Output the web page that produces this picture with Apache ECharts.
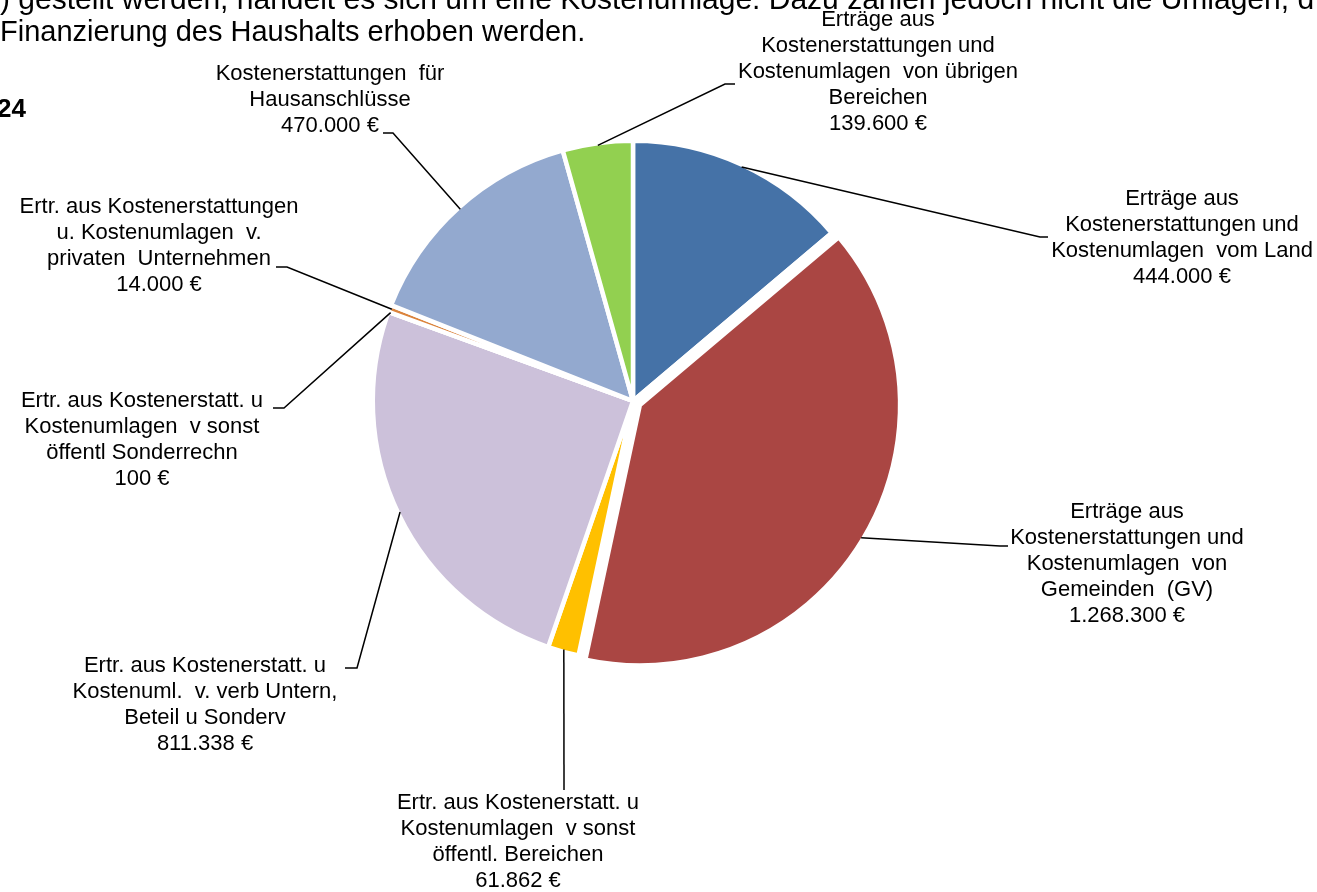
<!DOCTYPE html>
<html>
<head>
<meta charset="utf-8">
<title>Kostenerstattungen und Kostenumlagen</title>
<script src="https://cdn.jsdelivr.net/npm/echarts@6/dist/echarts.min.js"></script>
<style>
  html, body { margin: 0; padding: 0; background: #fff; }
  #chart { width: 1317px; height: 892px; }
</style>
</head>
<body>
<div id="chart"></div>
<script>
// Daten (im Uhrzeigersinn ab 12 Uhr)
const categories = [
  "Erträge aus\nKostenerstattungen und\nKostenumlagen  vom Land",
  "Erträge aus\nKostenerstattungen und\nKostenumlagen  von\nGemeinden  (GV)",
  "Ertr. aus Kostenerstatt. u\nKostenumlagen  v sonst\nöffentl. Bereichen",
  "Ertr. aus Kostenerstatt. u\nKostenuml.  v. verb Untern,\nBeteil u Sonderv",
  "Ertr. aus Kostenerstatt. u\nKostenumlagen  v sonst\nöffentl Sonderrechn",
  "Ertr. aus Kostenerstattungen\nu. Kostenumlagen  v.\nprivaten  Unternehmen",
  "Kostenerstattungen  für\nHausanschlüsse",
  "Erträge aus\nKostenerstattungen und\nKostenumlagen  von übrigen\nBereichen"
];
const values = [444000, 1268300, 61862, 811338, 100, 14000, 470000, 139600];
const colors = ["#4572a7", "#aa4643", "#ffc000", "#ccc1da", "#4198af", "#db843d", "#93a9cf", "#92d050"];

const textLine1 = ") gestellt werden, handelt es sich um eine Kostenumlage. Dazu zählen jedoch nicht die Umlagen, d";
const textLine2 = "Finanzierung des Haushalts erhoben werden.";
const textYear = "24";

// Geometrie
const cx = 633, cy = 401, R = 258; // sichtbarer Radius
const border = 4.5;
const explodeIndex = 1, explodeOffset = 8; // Gemeinden-Segment herausgezogen
const font = '"Liberation Sans", Arial, sans-serif';

// Beschriftungsposition: Mitte des Labels, Knick der Linie, Ende am Label
const labelSpots = [
  { x: 1182, y: 238, stub: [1040, 237], end: [1048, 237] },
  { x: 1127, y: 564, stub: [1000, 546], end: [1008, 546] },
  { x: 518, y: 842, stub: [564, 790], end: [564, 790] },
  { x: 205, y: 705, stub: [357, 668], end: [345, 668] },
  { x: 142, y: 440, stub: [284, 408], end: [273, 408] },
  { x: 159, y: 246, stub: [287, 267], end: [276, 267] },
  { x: 330, y: 100, stub: [393, 133], end: [383, 133] },
  { x: 878, y: 72, stub: [725, 84], end: [735, 84] }
];

const total = values.reduce((a, b) => a + b, 0);

// Winkel der Segmentmitte (im Uhrzeigersinn ab 12 Uhr)
function midAngle(i) {
  let before = 0;
  for (let k = 0; k < i; k++) before += values[k];
  return (before + values[i] / 2) / total * Math.PI * 2;
}

function arcPoint(i, r) {
  const a = midAngle(i);
  return [cx + r * Math.sin(a), cy - r * Math.cos(a)];
}

function euro(v) {
  return String(v).replace(/\B(?=(\d{3})+(?!\d))/g, ".") + " €";
}

const explodeCenter = arcPoint(explodeIndex, explodeOffset);

const chart = echarts.init(document.getElementById("chart"));

// Grundkreis (das herausgezogene Segment bleibt hier leer)
const pieData = categories.map((name, i) => ({
  name: name,
  value: values[i],
  itemStyle: { color: i === explodeIndex ? "transparent" : colors[i] }
}));

// nur das herausgezogene Segment, mit verschobenem Mittelpunkt
const explodeData = categories.map((name, i) => ({
  name: name,
  value: values[i],
  itemStyle: i === explodeIndex
    ? { color: colors[i], borderColor: "#fff", borderWidth: border }
    : { color: "transparent", borderWidth: 0 }
}));

// unsichtbarer Kreis nur für Beschriftungen, liegt oben damit die Linien nicht verdeckt werden
const labelData = categories.map((name, i) => ({ name: name, value: values[i] }));

const pieBase = {
  type: "pie",
  silent: true,
  radius: R + border / 2,
  startAngle: 90,
  clockwise: true,
  emphasis: { disabled: true },
  label: { show: false },
  labelLine: { show: false }
};

const option = {
  animation: false,
  backgroundColor: "#fff",
  graphic: [
    {
      type: "text", x: 0, y: 1,
      style: { text: textLine1, font: "30px " + font, fill: "#000", align: "left", verticalAlign: "middle" }
    },
    {
      type: "text", x: 0, y: 33,
      style: { text: textLine2, font: "29px " + font, fill: "#000", align: "left", verticalAlign: "middle" }
    },
    {
      type: "text", x: -3, y: 110,
      style: { text: textYear, font: "bold 26px " + font, fill: "#000", align: "left", verticalAlign: "middle" }
    }
  ],
  series: [
    Object.assign({}, pieBase, {
      z: 1,
      center: [cx, cy],
      itemStyle: { borderColor: "#fff", borderWidth: border },
      data: pieData
    }),
    Object.assign({}, pieBase, {
      z: 2,
      center: explodeCenter,
      data: explodeData
    }),
    Object.assign({}, pieBase, {
      z: 3,
      center: [cx, cy],
      avoidLabelOverlap: false,
      itemStyle: { color: "transparent", borderWidth: 0 },
      label: {
        show: true,
        position: "outside",
        color: "#000",
        fontFamily: font,
        fontSize: 22,
        lineHeight: 26,
        formatter: (p) => p.name + "\n" + euro(p.value)
      },
      labelLine: {
        show: true,
        smooth: false,
        length: 10,
        length2: 10,
        lineStyle: { color: "#000", width: 1.5 }
      },
      labelLayout: function (params) {
        const i = params.dataIndex;
        const s = labelSpots[i];
        const r = i === explodeIndex ? R + explodeOffset : R;
        return {
          x: s.x,
          y: s.y,
          align: "center",
          verticalAlign: "middle",
          labelLinePoints: [arcPoint(i, r), s.stub, s.end]
        };
      },
      data: labelData
    })
  ]
};

chart.setOption(option);
window.addEventListener("resize", () => chart.resize());
</script>
</body>
</html>
